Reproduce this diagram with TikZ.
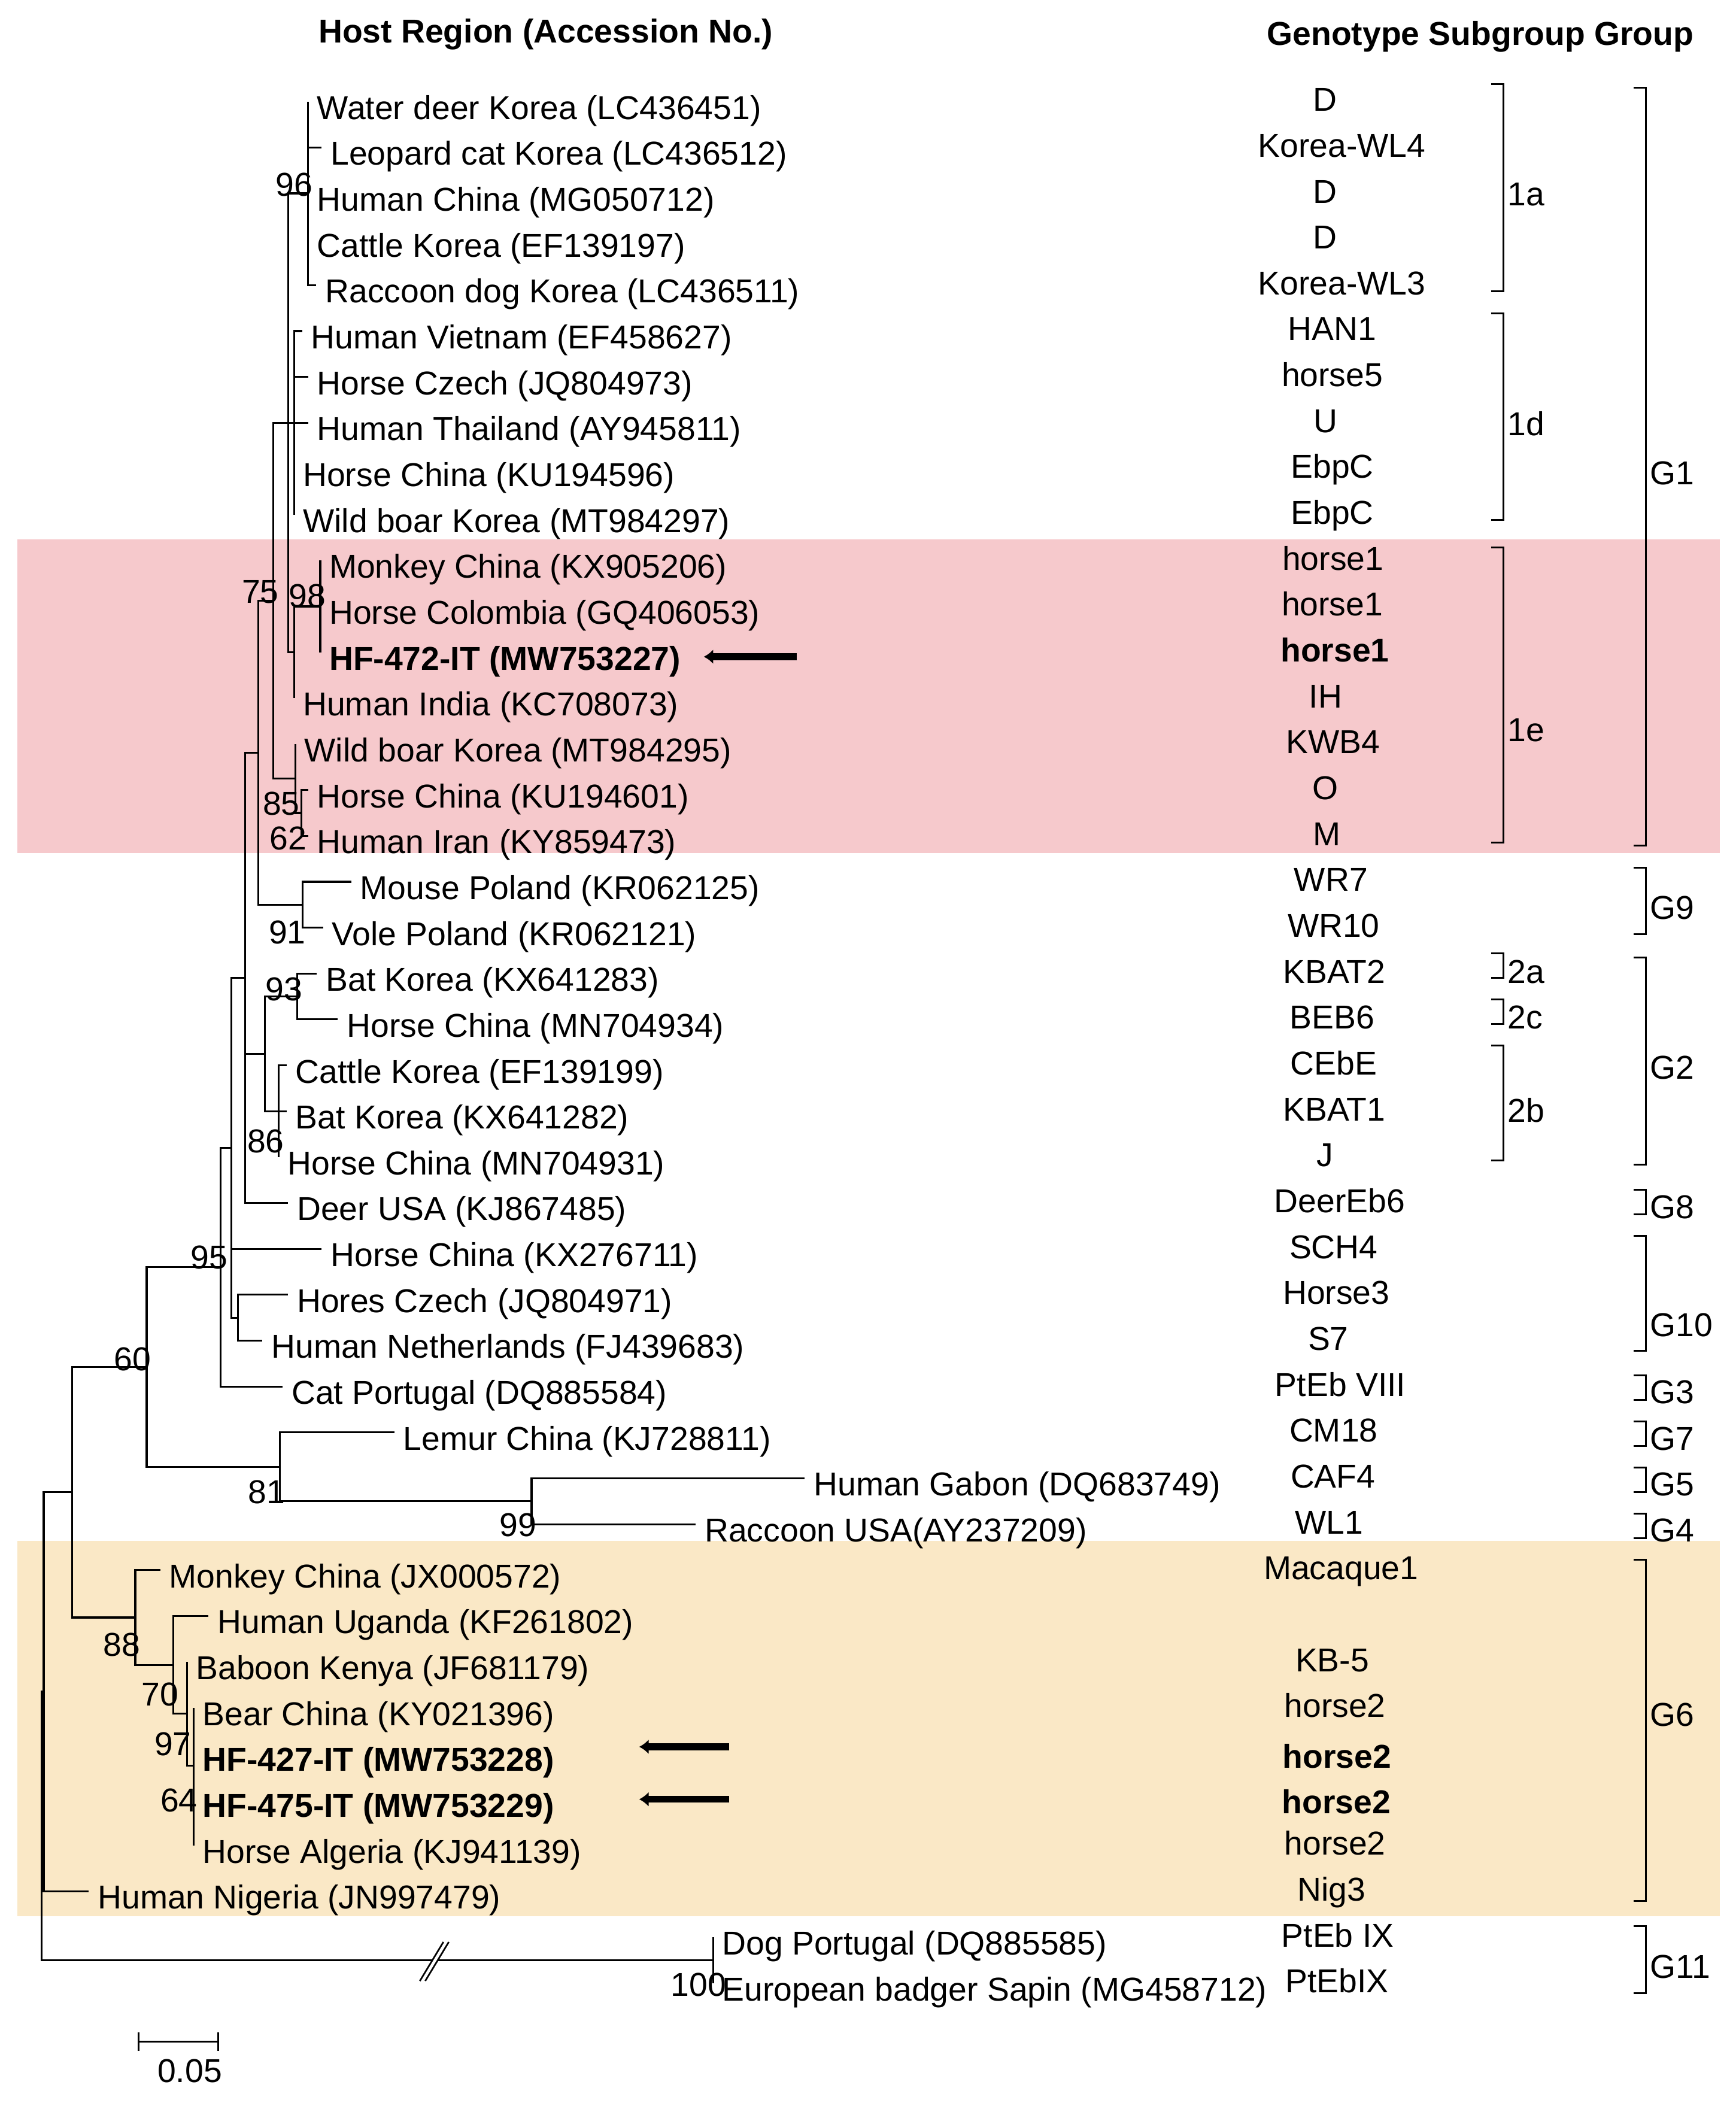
\documentclass[tikz,border=0pt]{standalone}
\usepackage{fontspec}
\setmainfont{Liberation Sans}
\usetikzlibrary{arrows.meta}
\tikzstyle{branch} = [draw, line width=1.4pt]
\tikzstyle{leaf} = [anchor=west, inner xsep=6.5pt, inner ysep=0pt, text height=26.2pt, text depth=0pt]
\tikzstyle{geno} = [anchor=base, inner sep=0pt]
\tikzstyle{boot} = [inner sep=0pt]
\tikzstyle{brace} = [draw, line width=1.3pt]
\tikzstyle{grp} = [anchor=west, inner sep=0pt]
\tikzstyle{pointer} = [draw, line width=5pt, -{Latex[length=7pt,width=11pt]}]
\definecolor{bandpink}{RGB}{246,201,204}
\definecolor{bandyellow}{RGB}{250,232,198}

\begin{document}
\begin{tikzpicture}[x=1pt,y=-1pt,font=\fontsize{24.6}{29}\selectfont]
		%\draw[help lines] (0,0) grid (1290,1563);
		\useasboundingbox (0,0) rectangle (1290,1562.7);
		\fill[white] (0,0) rectangle (1290,1562.7);
		\fill[bandpink] (13,401) rectangle (1278,634);
		\fill[bandyellow] (13,1145) rectangle (1278,1424);
		\node[anchor=base, font=\fontsize{24.6}{29}\selectfont\bfseries] (hhost) at (405.5,31.6) {Host Region (Accession No.)};
		\node[anchor=base, font=\fontsize{24.6}{29}\selectfont\bfseries] (hgeno) at (1100,33.6) {Genotype Subgroup Group};
		% tips
		\node[leaf] (l0) at (229,75.5) {Water deer Korea (LC436451)};
		\node[leaf] (l1) at (239,109.6) {Leopard cat Korea (LC436512)};
		\node[leaf] (l2) at (229,143.7) {Human China (MG050712)};
		\node[leaf] (l3) at (229,177.8) {Cattle Korea (EF139197)};
		\node[leaf] (l4) at (235,211.9) {Raccoon dog Korea (LC436511)};
		\node[leaf] (l5) at (224.5,246.0) {Human Vietnam (EF458627)};
		\node[leaf] (l6) at (229,280.1) {Horse Czech (JQ804973)};
		\node[leaf] (l7) at (229,314.2) {Human Thailand (AY945811)};
		\node[leaf] (l8) at (218.5,348.3) {Horse China (KU194596)};
		\node[leaf] (l9) at (218.5,382.4) {Wild boar Korea (MT984297)};
		\node[leaf] (l10) at (238,416.5) {Monkey China (KX905206)};
		\node[leaf] (l11) at (238,450.6) {Horse Colombia (GQ406053)};
		\node[leaf] (l12) at (238,484.7) {\bfseries HF-472-IT (MW753227)};
		\node[leaf] (l13) at (218.5,518.8) {Human India (KC708073)};
		\node[leaf] (l14) at (219.6,552.9) {Wild boar Korea (MT984295)};
		\node[leaf] (l15) at (229,587.0) {Horse China (KU194601)};
		\node[leaf] (l16) at (229,621.1) {Human Iran (KY859473)};
		\node[leaf] (l17) at (261,655.2) {Mouse Poland (KR062125)};
		\node[leaf] (l18) at (240,689.3) {Vole Poland (KR062121)};
		\node[leaf] (l19) at (235.5,723.4) {Bat Korea (KX641283)};
		\node[leaf] (l20) at (251,757.5) {Horse China (MN704934)};
		\node[leaf] (l21) at (213,791.6) {Cattle Korea (EF139199)};
		\node[leaf] (l22) at (213,825.7) {Bat Korea (KX641282)};
		\node[leaf] (l23) at (207,859.8) {Horse China (MN704931)};
		\node[leaf] (l24) at (214,893.9) {Deer USA (KJ867485)};
		\node[leaf] (l25) at (239,928.0) {Horse China (KX276711)};
		\node[leaf] (l26) at (214,962.1) {Hores Czech (JQ804971)};
		\node[leaf] (l27) at (195,996.2) {Human Netherlands (FJ439683)};
		\node[leaf] (l28) at (210,1030.3) {Cat Portugal (DQ885584)};
		\node[leaf] (l29) at (293,1064.4) {Lemur China (KJ728811)};
		\node[leaf] (l30) at (598,1098.5) {Human Gabon (DQ683749)};
		\node[leaf] (l31) at (517,1132.6) {Raccoon USA(AY237209)};
		\node[leaf] (l32) at (119,1166.7) {Monkey China (JX000572)};
		\node[leaf] (l33) at (155,1200.8) {Human Uganda (KF261802)};
		\node[leaf] (l34) at (139,1234.9) {Baboon Kenya (JF681179)};
		\node[leaf] (l35) at (144,1269.0) {Bear China (KY021396)};
		\node[leaf] (l36) at (144,1303.1) {\bfseries HF-427-IT (MW753228)};
		\node[leaf] (l37) at (144,1337.2) {\bfseries HF-475-IT (MW753229)};
		\node[leaf] (l38) at (144,1371.3) {Horse Algeria (KJ941139)};
		\node[leaf] (l39) at (66,1405.4) {Human Nigeria (JN997479)};
		\node[leaf] (l40) at (530,1439.5) {Dog Portugal (DQ885585)};
		\node[leaf] (l41) at (530,1473.6) {European badger Sapin (MG458712)};
		% inner nodes
		\coordinate (n1a) at (229,143.7);
		\coordinate (n1d) at (218.5,314.2);
		\coordinate (n98) at (238,450.6);
		\coordinate (nB) at (218.5,484.7);
		\coordinate (nP96) at (214,314.2);
		\coordinate (n62) at (224,604.05);
		\coordinate (n85) at (219.6,578.5);
		\coordinate (nA) at (203,446.35);
		\coordinate (n91) at (225,672.25);
		\coordinate (nC) at (192,559.3);
		\coordinate (n93) at (221,740.45);
		\coordinate (n86) at (207,825.7);
		\coordinate (nG2) at (197,783.1);
		\coordinate (nE) at (182,726.6);
		\coordinate (n2627) at (177,979.15);
		\coordinate (nG) at (172,852.9);
		\coordinate (nF) at (164,941.6);
		\coordinate (n99) at (395,1115.55);
		\coordinate (n81) at (208,1090);
		\coordinate (nH) at (109,1015.8);
		\coordinate (nM) at (144,1312);
		\coordinate (nL) at (139,1273.5);
		\coordinate (nK) at (128.6,1237.1);
		\coordinate (n88) at (100.5,1201.9);
		\coordinate (nI) at (53.5,1108.9);
		\coordinate (nJ) at (32.5,1257.1);
		\coordinate (n100) at (530,1456.55);
		\coordinate (nroot) at (31,1356.8);
		% branches
		\draw[branch] (n1a) |- (l0.west) (n1a) |- (l1.west) (n1a) |- (l2.west) (n1a) |- (l3.west) (n1a) |- (l4.west);
		\draw[branch] (n1d) |- (l5.west) (n1d) |- (l6.west) (n1d) |- (l7.west) (n1d) |- (l8.west) (n1d) |- (l9.west);
		\draw[branch] (n98) |- (l10.west) (n98) |- (l11.west) (n98) |- (l12.west);
		\draw[branch] (nB) |- (n98) (nB) |- (l13.west);
		\draw[branch] (nP96) |- (n1a) (nP96) |- (n1d) (nP96) |- (nB);
		\draw[branch] (n62) |- (l15.west) (n62) |- (l16.west);
		\draw[branch] (n85) |- (l14.west) (n85) |- (n62);
		\draw[branch] (nA) |- (nP96) (nA) |- (n85);
		\draw[branch] (n91) |- (l17.west) (n91) |- (l18.west);
		\draw[branch] (nC) |- (nA) (nC) |- (n91);
		\draw[branch] (n93) |- (l19.west) (n93) |- (l20.west);
		\draw[branch] (n86) |- (l21.west) (n86) |- (l22.west) (n86) |- (l23.west);
		\draw[branch] (nG2) |- (n93) (nG2) |- (n86);
		\draw[branch] (nE) |- (nC) (nE) |- (nG2) (nE) |- (l24.west);
		\draw[branch] (n2627) |- (l26.west) (n2627) |- (l27.west);
		\draw[branch] (nG) |- (nE) (nG) |- (l25.west) (nG) |- (n2627);
		\draw[branch] (nF) |- (nG) (nF) |- (l28.west);
		\draw[branch] (n99) |- (l30.west) (n99) |- (l31.west);
		\draw[branch] (n81) |- (l29.west) (n81) |- (n99);
		\draw[branch] (nH) |- (nF) (nH) |- (n81);
		\draw[branch] (nM) |- (l35.west) (nM) |- (l36.west) (nM) |- (l37.west) (nM) |- (l38.west);
		\draw[branch] (nL) |- (l34.west) (nL) |- (nM);
		\draw[branch] (nK) |- (l33.west) (nK) |- (nL);
		\draw[branch] (n88) |- (l32.west) (n88) |- (nK);
		\draw[branch] (nI) |- (nH) (nI) |- (n88);
		\draw[branch] (nJ) |- (nI) (nJ) |- (l39.west);
		\draw[branch] (n100) |- (l40.west) (n100) |- (l41.west);
		\draw[branch] (nroot) |- (nJ) (nroot) |- (n100);
		% break on the long branch
		\coordinate (cut1a) at (329.5,1443);
		\coordinate (cut1b) at (312,1472);
		\coordinate (cut2a) at (333.5,1443);
		\coordinate (cut2b) at (316,1472);
		\fill[white] (cut1a) -- (cut1b) -- (cut2b) -- (cut2a) -- cycle;
		\draw[line width=1.2pt] (cut1a) -- (cut1b);
		\draw[line width=1.2pt] (cut2a) -- (cut2b);
		% bootstrap values
		\node[boot] (b96) at (218.5,137) {96};
		\node[boot] (b75) at (193.5,440) {75};
		\node[boot] (b98) at (228.5,443) {98};
		\node[boot] (b85) at (209,597) {85};
		\node[boot] (b62) at (214,623) {62};
		\node[boot] (b91) at (213.5,693) {91};
		\node[boot] (b93) at (211,735) {93};
		\node[boot] (b86) at (197.5,848) {86};
		\node[boot] (b95) at (155.5,934.5) {95};
		\node[boot] (b60) at (98.5,1010) {60};
		\node[boot] (b81) at (198,1108.5) {81};
		\node[boot] (b99) at (385,1133) {99};
		\node[boot] (b88) at (90.5,1222) {88};
		\node[boot] (b70) at (119,1259) {70};
		\node[boot] (b97) at (128.5,1296) {97};
		\node[boot] (b64) at (133,1338) {64};
		\node[boot] (b100) at (519,1475) {100};
		% arrows to the new sequences
		\coordinate (a12s) at (592,488);
		\coordinate (a12e) at (523,488);
		\coordinate (a36s) at (542,1298);
		\coordinate (a36e) at (475,1298);
		\coordinate (a37s) at (542,1337);
		\coordinate (a37e) at (475,1337);
		\draw[pointer] (a12s) -- (a12e);
		\draw[pointer] (a36s) -- (a36e);
		\draw[pointer] (a37s) -- (a37e);
		% genotypes
		\node[geno] (g0) at (984.6,82.6) {D};
		\node[geno] (g1) at (997,116.7) {Korea-WL4};
		\node[geno] (g2) at (984.6,150.8) {D};
		\node[geno] (g3) at (984.6,184.9) {D};
		\node[geno] (g4) at (997,219.0) {Korea-WL3};
		\node[geno] (g5) at (990,253.1) {HAN1};
		\node[geno] (g6) at (990,287.2) {horse5};
		\node[geno] (g7) at (985,321.3) {U};
		\node[geno] (g8) at (990,355.4) {EbpC};
		\node[geno] (g9) at (990,389.5) {EbpC};
		\node[geno] (g10) at (990.5,423.6) {horse1};
		\node[geno] (g11) at (990,457.7) {horse1};
		\node[geno] (g12) at (992,491.8) {\bfseries horse1};
		\node[geno] (g13) at (985,525.9) {IH};
		\node[geno] (g14) at (990.5,560.0) {KWB4};
		\node[geno] (g15) at (985,594.1) {O};
		\node[geno] (g16) at (986,628.2) {M};
		\node[geno] (g17) at (989,662.3) {WR7};
		\node[geno] (g18) at (991,696.4) {WR10};
		\node[geno] (g19) at (991.5,730.5) {KBAT2};
		\node[geno] (g20) at (990,764.6) {BEB6};
		\node[geno] (g21) at (991,798.7) {CEbE};
		\node[geno] (g22) at (991.5,832.8) {KBAT1};
		\node[geno] (g23) at (984.5,866.9) {J};
		\node[geno] (g24) at (995.5,901.0) {DeerEb6};
		\node[geno] (g25) at (991,935.1) {SCH4};
		\node[geno] (g26) at (993,969.2) {Horse3};
		\node[geno] (g27) at (987,1003.3) {S7};
		\node[geno] (g28) at (996,1037.4) {PtEb VIII};
		\node[geno] (g29) at (991,1071.5) {CM18};
		\node[geno] (g30) at (990.5,1105.6) {CAF4};
		\node[geno] (g31) at (987.5,1139.7) {WL1};
		\node[geno] (g32) at (996.5,1173.8) {Macaque1};
		\node[geno] (g34) at (990,1242.0) {KB-5};
		\node[geno] (g35) at (992,1276.1) {horse2};
		\node[geno] (g36) at (993.5,1313.7) {\bfseries horse2};
		\node[geno] (g37) at (993,1347.8) {\bfseries horse2};
		\node[geno] (g38) at (992,1378.4) {horse2};
		\node[geno] (g39) at (989.5,1412.5) {Nig3};
		\node[geno] (g40) at (994,1446.6) {PtEb IX};
		\node[geno] (g41) at (993.5,1480.7) {PtEbIX};
		% subgroups
		\draw[brace] (1108,62.6) -- (1117,62.6) -- (1117,216.3) -- (1108,216.3);
		\draw[brace] (1108,232.8) -- (1117,232.8) -- (1117,386.5) -- (1108,386.5);
		\draw[brace] (1108,407) -- (1117,407) -- (1117,626.2) -- (1108,626.2);
		\draw[brace] (1108,708.5) -- (1117,708.5) -- (1117,726.7) -- (1108,726.7);
		\draw[brace] (1108,742.7) -- (1117,742.7) -- (1117,761) -- (1108,761);
		\draw[brace] (1108,777) -- (1117,777) -- (1117,862.4) -- (1108,862.4);
		\node[grp] (s1a) at (1120,144.5) {1a};
		\node[grp] (s1d) at (1120,315) {1d};
		\node[grp] (s1e) at (1120,542.5) {1e};
		\node[grp] (s2a) at (1120,722) {2a};
		\node[grp] (s2c) at (1120,756) {2c};
		\node[grp] (s2b) at (1120,825) {2b};
		% groups
		\draw[brace] (1214,65.1) -- (1223,65.1) -- (1223,628.3) -- (1214,628.3);
		\draw[brace] (1214,644.7) -- (1223,644.7) -- (1223,694.3) -- (1214,694.3);
		\draw[brace] (1214,711.4) -- (1223,711.4) -- (1223,865.3) -- (1214,865.3);
		\draw[brace] (1214,884) -- (1223,884) -- (1223,902.3) -- (1214,902.3);
		\draw[brace] (1214,918.3) -- (1223,918.3) -- (1223,1003.8) -- (1214,1003.8);
		\draw[brace] (1214,1022) -- (1223,1022) -- (1223,1040.2) -- (1214,1040.2);
		\draw[brace] (1214,1056.2) -- (1223,1056.2) -- (1223,1074.4) -- (1214,1074.4);
		\draw[brace] (1214,1090.4) -- (1223,1090.4) -- (1223,1108.6) -- (1214,1108.6);
		\draw[brace] (1214,1124.6) -- (1223,1124.6) -- (1223,1142.8) -- (1214,1142.8);
		\draw[brace] (1214,1158.8) -- (1223,1158.8) -- (1223,1412.5) -- (1214,1412.5);
		\draw[brace] (1214,1431.3) -- (1223,1431.3) -- (1223,1481) -- (1214,1481);
		\node[grp] (G1) at (1226,351.5) {G1};
		\node[grp] (G9) at (1226,674.5) {G9};
		\node[grp] (G2) at (1226,793.5) {G2};
		\node[grp] (G8) at (1226,897) {G8};
		\node[grp] (G10) at (1226,984.5) {G10};
		\node[grp] (G3) at (1226,1034.5) {G3};
		\node[grp] (G7) at (1226,1069) {G7};
		\node[grp] (G5) at (1226,1103) {G5};
		\node[grp] (G4) at (1226,1137) {G4};
		\node[grp] (G6) at (1226,1274) {G6};
		\node[grp] (G11) at (1226,1461.5) {G11};
		% scale bar
		\coordinate (sbl) at (103,1517);
		\coordinate (sbr) at (162,1517);
		\draw[line width=1.3pt] (sbl) -- (sbr);
		\draw[line width=1.3pt] (sbl) ++(0,-7) -- ++(0,14);
		\draw[line width=1.3pt] (sbr) ++(0,-7) -- ++(0,14);
		\node[boot] (sblab) at (141,1539) {0.05};
\end{tikzpicture}
\end{document}
